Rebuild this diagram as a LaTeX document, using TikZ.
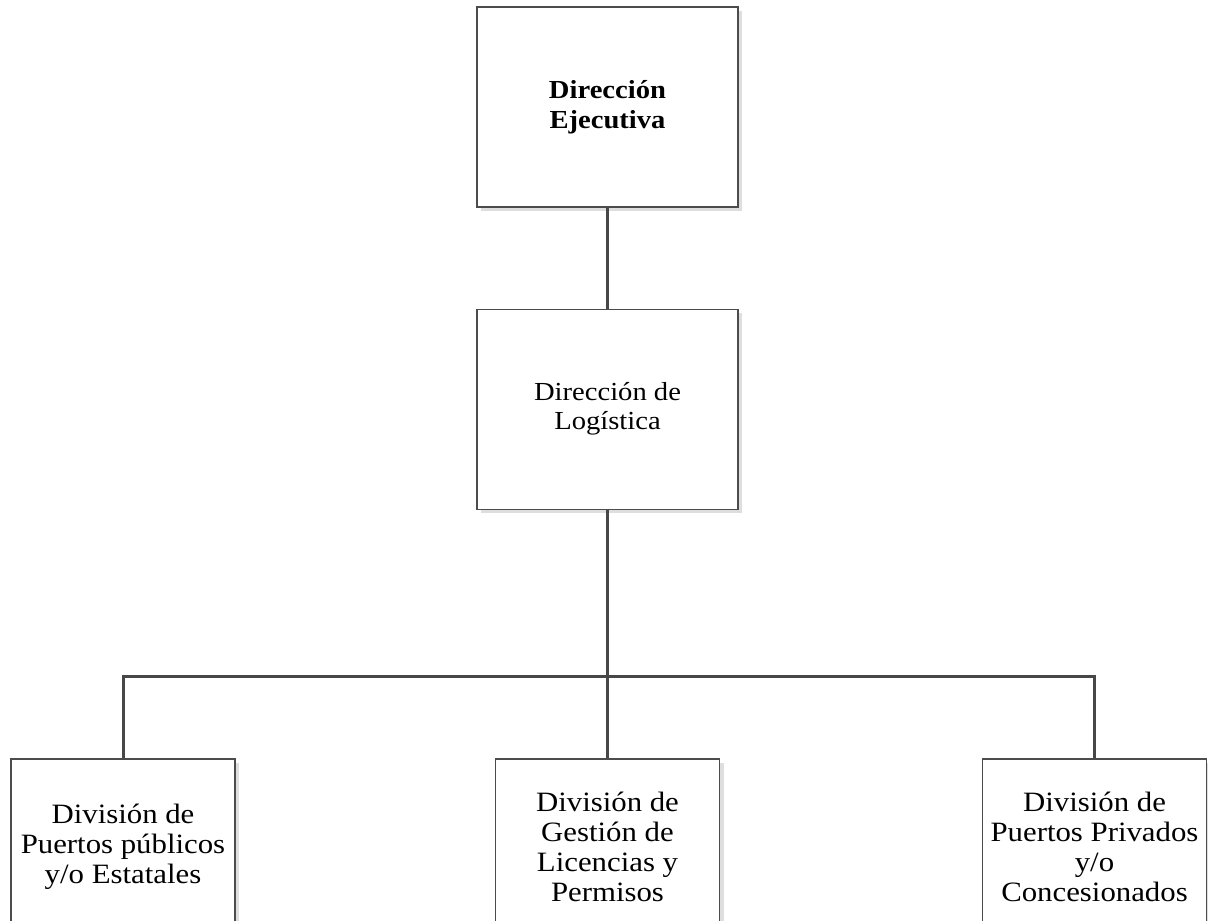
\documentclass[tikz,border=0pt]{standalone}
\usepackage{fontspec}
\setmainfont{Liberation Serif}[FakeStretch=1.1]
\usetikzlibrary{positioning, shadows}

\begin{document}
\begin{tikzpicture}[x=1pt, y=-1pt,
  unit/.style={draw=black!70, line width=1.2pt, fill=white, align=center,
    drop shadow={shadow xshift=4pt, shadow yshift=-4pt, fill=black!13, opacity=1},
    minimum width=261pt, minimum height=200pt, inner sep=0pt},
  sub/.style={unit, minimum width=224pt, minimum height=176pt,
    font=\fontsize{28}{30}\selectfont},
  link/.style={draw=black!72, line width=3pt}]
  \useasboundingbox (0,0) rectangle (1208,921);
  % Direcciones
  \node[unit, font=\fontsize{26}{30}\selectfont\bfseries] (eje) at (607.5,107) {Dirección\\Ejecutiva};
  \node[unit, below=101pt of eje, font=\fontsize{26}{29}\selectfont] (log) {Dirección de\\Logística};
  % Divisiones
  \node[sub] (pub) at (123,847) {División de\\Puertos públicos\\y/o Estatales};
  \node[sub] (lic) at (607.5,847) {División de\\Gestión de\\Licencias y\\Permisos};
  \node[sub] (prv) at (1094.5,847) {División de\\Puertos Privados\\y/o\\Concesionados};
  % Conectores
  \coordinate (bar) at (607.5,676);
  \draw[link] (eje) -- (log);
  \draw[link] (log) -- (lic);
  \draw[link] (pub.north) |- (bar) -| (prv.north);
\end{tikzpicture}
\end{document}
